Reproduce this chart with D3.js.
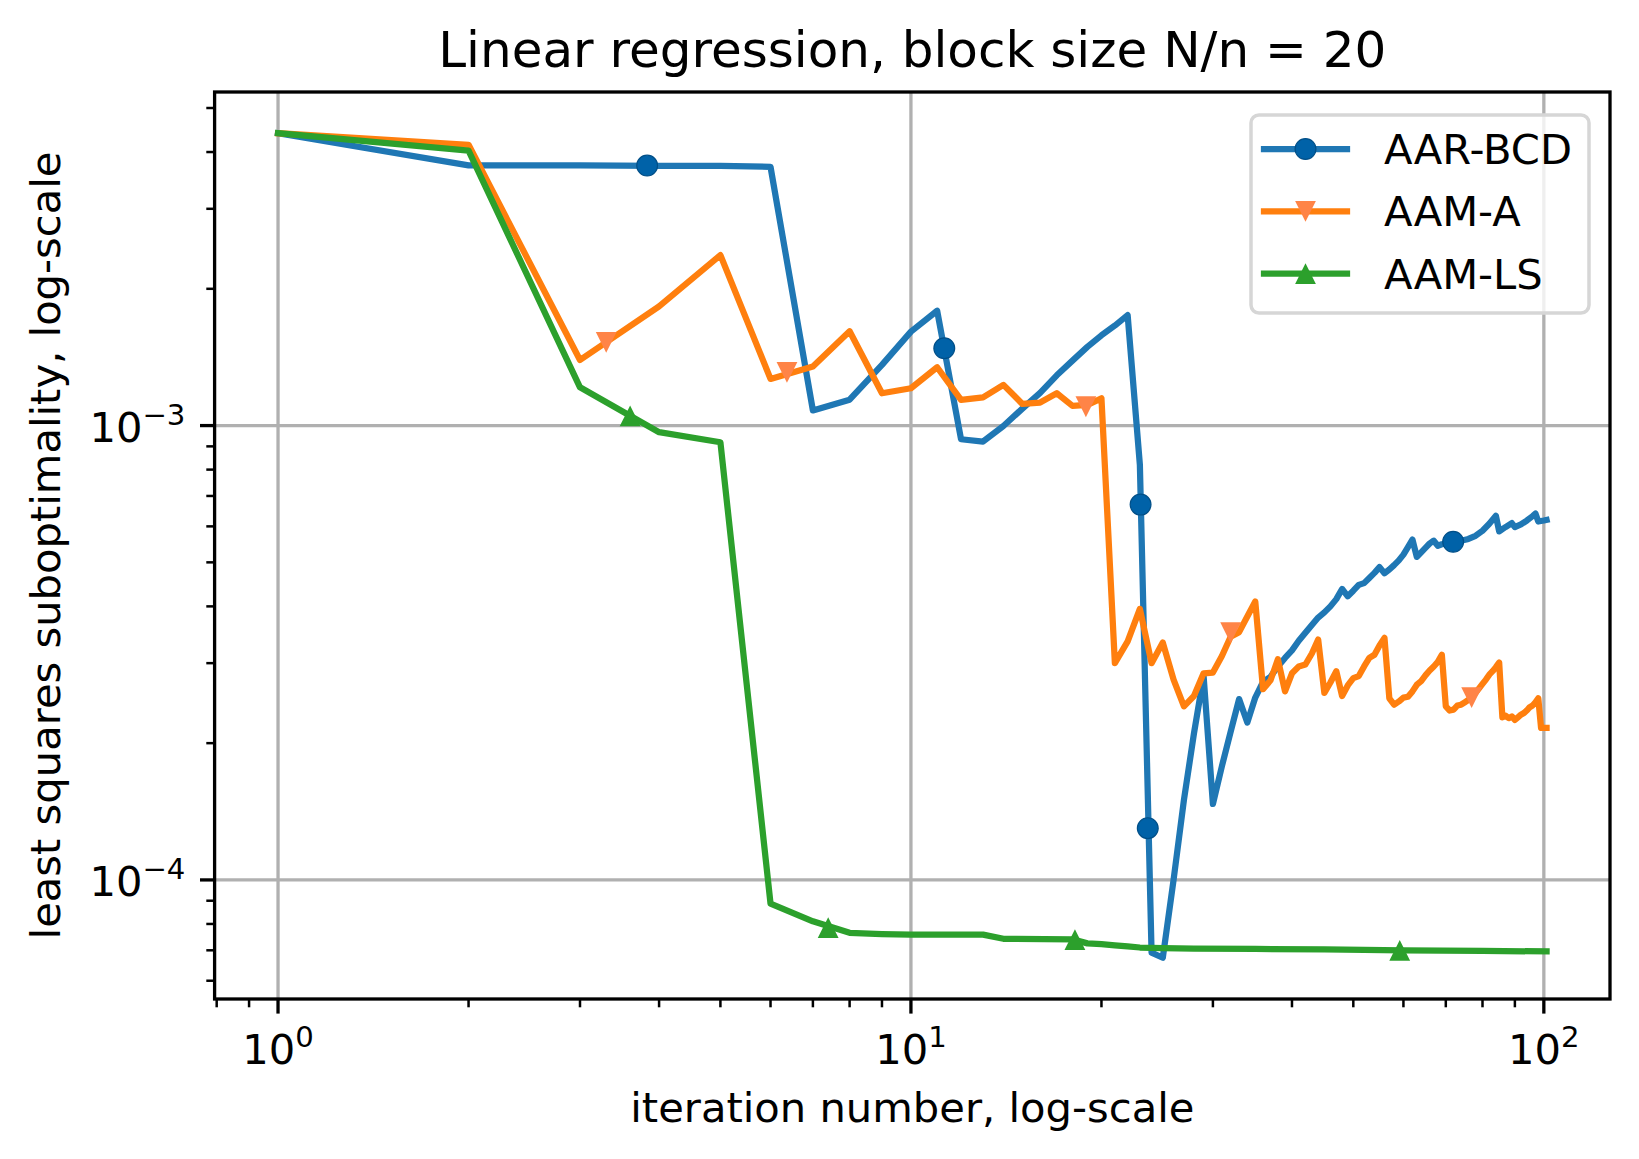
<!DOCTYPE html>
<html>
<head>
<meta charset="utf-8">
<script src="https://cdn.jsdelivr.net/npm/d3@7"></script>
<style>
body { margin: 0; background: #fff; }
text { font-family: "DejaVu Sans", sans-serif; fill: #000; }
</style>
</head>
<body>
<div id="chart"></div>
<script>

// values

var bcdIter = [1, 2, 3, 4, 5, 6, 7, 8, 9, 10,
    11, 12, 13, 14, 15, 16, 17, 18, 19, 20,
    21, 22, 23, 24, 25, 26, 27, 28, 29, 30,
    31, 32, 33, 34, 35, 36, 37, 38, 39, 40,
    41, 42, 43, 44, 45, 46, 47, 48, 49, 50,
    51, 52, 53, 54, 55, 56, 57, 58, 59, 60,
    61, 62, 63, 64, 65, 66, 67, 68, 69, 70,
    72, 74, 76, 78, 80, 82, 84, 85, 87, 89,
    90, 92, 94, 96, 97, 98, 100, 101];
var bcdVal = [4.4e-3, 3.74e-3, 3.74e-3, 3.73e-3, 3.73e-3, 3.71e-3, 1.08e-3, 1.14e-3, 1.36e-3, 1.61e-3,
    1.79e-3, 9.33e-4, 9.22e-4, 9.98e-4, 1.09e-3, 1.18e-3, 1.29e-3, 1.39e-3, 1.49e-3, 1.58e-3,
    1.66e-3, 1.75e-3, 8.2e-4, 6.92e-5, 6.74e-5, 1.0e-4, 1.5e-4, 2.1e-4, 2.81e-4, 1.47e-4,
    1.78e-4, 2.12e-4, 2.5e-4, 2.22e-4, 2.52e-4, 2.73e-4, 2.8e-4, 2.95e-4, 3.08e-4, 3.2e-4,
    3.36e-4, 3.5e-4, 3.64e-4, 3.78e-4, 3.88e-4, 4.0e-4, 4.15e-4, 4.37e-4, 4.21e-4, 4.33e-4,
    4.46e-4, 4.5e-4, 4.62e-4, 4.74e-4, 4.88e-4, 4.73e-4, 4.82e-4, 4.93e-4, 5.05e-4, 5.2e-4,
    5.4e-4, 5.61e-4, 5.14e-4, 5.26e-4, 5.38e-4, 5.5e-4, 5.58e-4, 5.44e-4, 5.48e-4, 5.5e-4,
    5.54e-4, 5.58e-4, 5.63e-4, 5.72e-4, 5.87e-4, 6.08e-4, 6.33e-4, 5.85e-4, 5.98e-4, 6.1e-4,
    5.98e-4, 6.06e-4, 6.18e-4, 6.32e-4, 6.4e-4, 6.15e-4, 6.18e-4, 6.2e-4];

var aamaIter = d3.range(1, 102);
var aamaVal = [4.4e-3, 4.15e-3, 1.394e-3, 1.83e-3, 2.372e-3, 1.267e-3, 1.349e-3, 1.613e-3, 1.178e-3, 1.208e-3,
    1.344e-3, 1.139e-3, 1.154e-3, 1.229e-3, 1.116e-3, 1.124e-3, 1.178e-3, 1.105e-3, 1.11e-3, 1.148e-3,
    3.0e-4, 3.35e-4, 3.95e-4, 3.0e-4, 3.33e-4, 2.76e-4, 2.41e-4, 2.54e-4, 2.85e-4, 2.86e-4,
    3.11e-4, 3.43e-4, 3.51e-4, 3.8e-4, 4.1e-4, 2.63e-4, 2.75e-4, 3.06e-4, 2.6e-4, 2.85e-4,
    2.95e-4, 2.98e-4, 3.15e-4, 3.38e-4, 2.58e-4, 2.72e-4, 2.88e-4, 2.54e-4, 2.68e-4, 2.78e-4,
    2.81e-4, 2.95e-4, 3.08e-4, 3.13e-4, 3.28e-4, 3.41e-4, 2.51e-4, 2.43e-4, 2.47e-4, 2.52e-4,
    2.53e-4, 2.6e-4, 2.69e-4, 2.74e-4, 2.82e-4, 2.89e-4, 2.95e-4, 3.02e-4, 3.13e-4, 2.41e-4,
    2.36e-4, 2.37e-4, 2.42e-4, 2.43e-4, 2.46e-4, 2.49e-4, 2.53e-4, 2.58e-4, 2.64e-4, 2.7e-4,
    2.76e-4, 2.83e-4, 2.88e-4, 2.94e-4, 3.01e-4, 2.28e-4, 2.3e-4, 2.27e-4, 2.29e-4, 2.25e-4,
    2.28e-4, 2.31e-4, 2.33e-4, 2.36e-4, 2.4e-4, 2.42e-4, 2.46e-4, 2.51e-4, 2.16e-4, 2.16e-4,
    2.16e-4];

var aamlsIter = [1, 2, 3, 4, 5, 6, 7, 8, 9, 10, 13, 14, 18, 19, 20, 21, 22, 23, 25, 28, 35, 45, 60, 80, 101];
var aamlsVal = [4.4e-3, 4.03e-3, 1.214e-3, 9.67e-4, 9.19e-4, 8.87e-5, 8.11e-5, 7.65e-5, 7.6e-5, 7.58e-5,
    7.58e-5, 7.42e-5, 7.4e-5, 7.25e-5, 7.22e-5, 7.18e-5, 7.14e-5, 7.1e-5, 7.08e-5, 7.06e-5,
    7.05e-5, 7.03e-5, 7.0e-5, 6.98e-5, 6.96e-5];

// marker positions (markevery style, they sit along the segments)
var bcdMarkIter = [3.83, 11.29, 23.06, 23.67, 71.9];
var bcdMarkVal = [3.735e-3, 1.48e-3, 6.7e-4, 1.3e-4, 5.55e-4];
var aamaMarkIter = [3.3, 6.37, 18.9, 32, 76.9];
var aamaMarkVal = [1.525e-3, 1.31e-3, 1.1e-3, 3.5e-4, 2.52e-4];
var aamlsMarkIter = [3.6, 7.4, 18.16, 59.2];
var aamlsMarkVal = [1.05e-3, 7.85e-5, 7.39e-5, 7.0e-5];

var seriesNames = ["AAR-BCD", "AAM-A", "AAM-LS"];

var xMajor = [1, 10, 100];
var xMajorExp = ["0", "1", "2"];
var xMinor = [0.8, 0.9, 2, 3, 4, 5, 6, 7, 8, 9, 20, 30, 40, 50, 60, 70, 80, 90];
var yMajor = [1e-4, 1e-3];
var yMajorExp = ["\u22124", "\u22123"];
var yMinor = [6e-5, 7e-5, 8e-5, 9e-5, 2e-4, 3e-4, 4e-4, 5e-4, 6e-4, 7e-4, 8e-4, 9e-4,
    2e-3, 3e-3, 4e-3, 5e-3];

// layout

var width = 1639, height = 1159;
var plotLeft = 214.6, plotRight = 1610, plotTop = 92, plotBottom = 999;

var series = [
    {name: seriesNames[0], iter: bcdIter, val: bcdVal, mx: bcdMarkIter, my: bcdMarkVal,
     color: "#1f77b4", mfill: "#0062a8", mstroke: "#004f88", shape: "circle"},
    {name: seriesNames[1], iter: aamaIter, val: aamaVal, mx: aamaMarkIter, my: aamaMarkVal,
     color: "#ff7f0e", mfill: "#ff8447", mstroke: "none", shape: "down"},
    {name: seriesNames[2], iter: aamlsIter, val: aamlsVal, mx: aamlsMarkIter, my: aamlsMarkVal,
     color: "#2ca02c", mfill: "#2ca02c", mstroke: "none", shape: "up"}
];

// matplotlib-like 5% margin in log space
function logPad(lo, hi) {
    var a = Math.log10(lo), b = Math.log10(hi), p = (b - a) * 0.05;
    return [Math.pow(10, a - p), Math.pow(10, b + p)];
}

var allIter = bcdIter.concat(aamaIter, aamlsIter);
var allVal = bcdVal.concat(aamaVal, aamlsVal);

var x = d3.scaleLog()
    .domain(logPad(d3.min(allIter), d3.max(allIter)))
    .range([plotLeft, plotRight]);

var y = d3.scaleLog()
    .domain(logPad(d3.min(allVal), d3.max(allVal)))
    .range([plotBottom, plotTop]);

var svg = d3.select("#chart").append("svg")
    .attr("width", width)
    .attr("height", height);

svg.append("defs").append("clipPath")
    .attr("id", "plot-clip")
    .append("rect")
    .attr("x", plotLeft)
    .attr("y", plotTop)
    .attr("width", plotRight - plotLeft)
    .attr("height", plotBottom - plotTop);

// grid on major ticks
var grid = svg.append("g").attr("class", "grid");

grid.selectAll(".gx")
    .data(xMajor).enter()
    .append("line")
    .attr("x1", function(d) { return x(d); })
    .attr("x2", function(d) { return x(d); })
    .attr("y1", plotTop)
    .attr("y2", plotBottom)
    .style("stroke", "#b0b0b0")
    .style("stroke-width", 3.3);

grid.selectAll(".gy")
    .data(yMajor).enter()
    .append("line")
    .attr("x1", plotLeft)
    .attr("x2", plotRight)
    .attr("y1", function(d) { return y(d); })
    .attr("y2", function(d) { return y(d); })
    .style("stroke", "#b0b0b0")
    .style("stroke-width", 3.3);

// lines and markers
var markerSize = 10.4;

function markerPath(shape) {
    var h = markerSize;
    if (shape === "up") return "M0," + (-h) + "L" + h + "," + h + "L" + (-h) + "," + h + "Z";
    if (shape === "down") return "M0," + h + "L" + h + "," + (-h) + "L" + (-h) + "," + (-h) + "Z";
    return d3.symbol().type(d3.symbolCircle).size(Math.PI * h * h)();
}

var line = d3.line()
    .curve(d3.curveLinear)
    .x(function(d) { return x(d[0]); })
    .y(function(d) { return y(d[1]); });

var plot = svg.append("g")
    .attr("clip-path", "url(#plot-clip)");

series.forEach(function(s) {
    var pts = s.iter.map(function(d, i) { return [d, s.val[i]]; });
    var marks = s.mx.map(function(d, i) { return [d, s.my[i]]; });

    plot.append("path")
        .attr("d", line(pts))
        .style("fill", "none")
        .style("stroke", s.color)
        .style("stroke-width", 6.25)
        .style("stroke-linejoin", "round")
        .style("stroke-linecap", "square");

    plot.selectAll(null)
        .data(marks).enter()
        .append("path")
        .attr("transform", function(d) { return "translate(" + x(d[0]) + "," + y(d[1]) + ")"; })
        .attr("d", markerPath(s.shape))
        .style("fill", s.mfill)
        .style("stroke", s.mstroke)
        .style("stroke-width", 1.2);
});

// spines
svg.append("rect")
    .attr("x", plotLeft)
    .attr("y", plotTop)
    .attr("width", plotRight - plotLeft)
    .attr("height", plotBottom - plotTop)
    .style("fill", "none")
    .style("stroke", "#000")
    .style("stroke-width", 3.3);

// ticks
var ticks = svg.append("g").attr("class", "ticks");
var xDom = x.domain(), yDom = y.domain();

function inX(d) { return d >= xDom[0] && d <= xDom[1]; }
function inY(d) { return d >= yDom[0] && d <= yDom[1]; }

ticks.selectAll(".xmaj")
    .data(xMajor.filter(inX)).enter()
    .append("line")
    .attr("x1", function(d) { return x(d); })
    .attr("x2", function(d) { return x(d); })
    .attr("y1", plotBottom)
    .attr("y2", plotBottom + 14.6)
    .style("stroke", "#000")
    .style("stroke-width", 3.3);

ticks.selectAll(".xmin")
    .data(xMinor.filter(inX)).enter()
    .append("line")
    .attr("x1", function(d) { return x(d); })
    .attr("x2", function(d) { return x(d); })
    .attr("y1", plotBottom)
    .attr("y2", plotBottom + 8.3)
    .style("stroke", "#000")
    .style("stroke-width", 2.5);

ticks.selectAll(".ymaj")
    .data(yMajor.filter(inY)).enter()
    .append("line")
    .attr("x1", plotLeft - 14.6)
    .attr("x2", plotLeft)
    .attr("y1", function(d) { return y(d); })
    .attr("y2", function(d) { return y(d); })
    .style("stroke", "#000")
    .style("stroke-width", 3.3);

ticks.selectAll(".ymin")
    .data(yMinor.filter(inY)).enter()
    .append("line")
    .attr("x1", plotLeft - 8.3)
    .attr("x2", plotLeft)
    .attr("y1", function(d) { return y(d); })
    .attr("y2", function(d) { return y(d); })
    .style("stroke", "#000")
    .style("stroke-width", 2.5);

// tick labels as 10 with a superscript
var fs = 41.67;

function powLabel(sel, exp) {
    sel.append("tspan").text("10");
    sel.append("tspan")
        .attr("dy", -17)
        .style("font-size", (fs * 0.7) + "px")
        .text(exp);
}

xMajor.forEach(function(d, i) {
    var t = svg.append("text")
        .attr("x", x(d))
        .attr("y", 1064)
        .attr("text-anchor", "middle")
        .style("font-size", fs + "px");
    powLabel(t, xMajorExp[i]);
});

yMajor.forEach(function(d, i) {
    var t = svg.append("text")
        .attr("x", plotLeft - 14.6 - 14.6)
        .attr("y", y(d) + 16)
        .attr("text-anchor", "end")
        .style("font-size", fs + "px");
    powLabel(t, yMajorExp[i]);
});

// title and axis labels
var midX = (plotLeft + plotRight) / 2;

svg.append("text")
    .attr("x", midX)
    .attr("y", 66.6)
    .attr("text-anchor", "middle")
    .style("font-size", "50px")
    .text("Linear regression, block size N/n = 20");

svg.append("text")
    .attr("x", midX)
    .attr("y", 1122)
    .attr("text-anchor", "middle")
    .style("font-size", fs + "px")
    .text("iteration number, log-scale");

svg.append("text")
    .attr("transform", "translate(60," + ((plotTop + plotBottom) / 2) + ") rotate(-90)")
    .attr("text-anchor", "middle")
    .style("font-size", fs + "px")
    .text("least squares suboptimality, log-scale");

// legend
var legend = svg.append("g").attr("class", "legend");

legend.append("rect")
    .attr("x", 1251)
    .attr("y", 115)
    .attr("width", 338)
    .attr("height", 198)
    .attr("rx", 8)
    .style("fill", "#fff")
    .style("fill-opacity", 0.8)
    .style("stroke", "#d6d6d6")
    .style("stroke-width", 3.5);

var legendRow = legend.selectAll(".legend-row")
    .data(series).enter()
    .append("g")
    .attr("class", "legend-row")
    .attr("transform", function(d, i) { return "translate(0," + (149 + i * 62.3) + ")"; });

legendRow.append("line")
    .attr("x1", 1264)
    .attr("x2", 1347)
    .style("stroke", function(d) { return d.color; })
    .style("stroke-width", 6.25)
    .style("stroke-linecap", "square");

legendRow.append("path")
    .attr("transform", "translate(1305.5,0)")
    .attr("d", function(d) { return markerPath(d.shape); })
    .style("fill", function(d) { return d.mfill; })
    .style("stroke", function(d) { return d.mstroke; })
    .style("stroke-width", 1.2);

legendRow.append("text")
    .attr("x", 1384)
    .attr("y", 15)
    .style("font-size", fs + "px")
    .text(function(d) { return d.name; });

</script>
</body>
</html>
